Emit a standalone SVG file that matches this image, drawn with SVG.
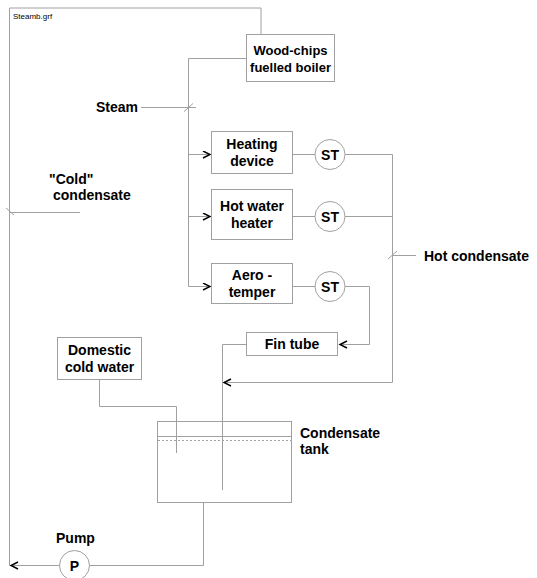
<svg xmlns="http://www.w3.org/2000/svg" width="537" height="578" viewBox="0 0 537 578">
<style>
.ln{fill:none;stroke:#a0a0a0;stroke-width:1}
.bx{fill:#fff;stroke:#a0a0a0;stroke-width:1}
.t{font-family:"Liberation Sans",Arial,sans-serif;font-weight:bold;font-size:14px;fill:#000}
.tc{text-anchor:middle}
.s{font-family:"Liberation Sans",Arial,sans-serif;font-size:8px;fill:#000}
</style>
<defs>
<marker id="ah" markerWidth="10" markerHeight="10" refX="8" refY="4" orient="auto" markerUnits="userSpaceOnUse">
<path d="M1,0.5 L8,4 L1,7.5" fill="none" stroke="#000" stroke-width="1.4"/>
</marker>
</defs>
<rect x="0" y="0" width="537" height="578" fill="#fff"/>
<g id="connectors">
<polyline class="ln" points="261,34 261,8 9.5,8 9.5,565.5"/>
<polyline class="ln" points="246,58.5 188.5,58.5 188.5,286.5 210,286.5" marker-end="url(#ah)"/>
<line class="ln" x1="188.5" y1="154.5" x2="210" y2="154.5" marker-end="url(#ah)"/>
<line class="ln" x1="188.5" y1="216.5" x2="210" y2="216.5" marker-end="url(#ah)"/>
<line class="ln" x1="141" y1="107.5" x2="196" y2="107.5"/>
<line class="ln" x1="184" y1="111.5" x2="193" y2="103.5"/>
<line class="ln" x1="9.5" y1="212.5" x2="80" y2="212.5"/>
<line class="ln" x1="6" y1="208" x2="14" y2="215"/>
<line class="ln" x1="292" y1="154.5" x2="315" y2="154.5"/>
<line class="ln" x1="292" y1="216.5" x2="315" y2="216.5"/>
<line class="ln" x1="292" y1="286.5" x2="315" y2="286.5"/>
<polyline class="ln" points="345,154.5 392.5,154.5 392.5,382.5 224,382.5" marker-end="url(#ah)"/>
<line class="ln" x1="345" y1="216.5" x2="392.5" y2="216.5"/>
<line class="ln" x1="392.5" y1="255.5" x2="416" y2="255.5"/>
<line class="ln" x1="388" y1="259" x2="397" y2="251"/>
<polyline class="ln" points="345,286.5 369.5,286.5 369.5,344.5 340,344.5" marker-end="url(#ah)"/>
<polyline class="ln" points="246,344.5 222.5,344.5 222.5,490"/>
<polyline class="ln" points="99.5,379 99.5,406.5 176.5,406.5 176.5,453"/>
<polyline class="ln" points="203.5,502 203.5,565.5 89,565.5"/>
<line class="ln" x1="60" y1="565.5" x2="11" y2="565.5" marker-end="url(#ah)"/>
</g>
<text class="s" x="13" y="19">Steamb.grf</text>
<g id="boiler">
<rect class="bx" x="246.5" y="34.5" width="88" height="47"/>
<text class="t tc" x="290.5" y="55" style="font-size:13px">Wood-chips</text>
<text class="t tc" x="290.5" y="72" style="font-size:13px">fuelled boiler</text>
</g>
<g id="steam-label"><text class="t" x="96" y="112">Steam</text></g>
<g id="cold-label">
<text class="t" x="49" y="184">"Cold"</text>
<text class="t" x="53" y="200">condensate</text>
</g>
<g id="heating">
<rect class="bx" x="211.5" y="131.5" width="81" height="42"/>
<text class="t tc" x="252" y="149">Heating</text>
<text class="t tc" x="252" y="166">device</text>
</g>
<g id="hotwater">
<rect class="bx" x="211.5" y="189.5" width="81" height="50"/>
<text class="t tc" x="252" y="211">Hot water</text>
<text class="t tc" x="252" y="228">heater</text>
</g>
<g id="aero">
<rect class="bx" x="211.5" y="263.5" width="81" height="40"/>
<text class="t tc" x="252" y="280">Aero -</text>
<text class="t tc" x="252" y="297">temper</text>
</g>
<g id="st1"><circle class="bx" cx="330" cy="154.5" r="15"/><text class="t tc" x="330" y="160">ST</text></g>
<g id="st2"><circle class="bx" cx="330" cy="216.5" r="15"/><text class="t tc" x="330" y="222">ST</text></g>
<g id="st3"><circle class="bx" cx="330" cy="286.5" r="15"/><text class="t tc" x="330" y="292">ST</text></g>
<g id="hot-label"><text class="t" x="424" y="261">Hot condensate</text></g>
<g id="fintube">
<rect class="bx" x="246.5" y="332.5" width="91" height="23"/>
<text class="t tc" x="292" y="349">Fin tube</text>
</g>
<g id="domestic">
<rect class="bx" x="57.5" y="337.5" width="84" height="42"/>
<text class="t tc" x="99.5" y="355">Domestic</text>
<text class="t tc" x="99.5" y="372">cold water</text>
</g>
<g id="tank">
<rect class="ln" x="157.5" y="421.5" width="134" height="81"/>
<line class="ln" x1="157.5" y1="436.5" x2="291.5" y2="436.5"/>
<line x1="158" y1="440.5" x2="291" y2="440.5" stroke="#a0a0a0" stroke-width="1" stroke-dasharray="2,2"/>
<line class="ln" x1="176.5" y1="421.5" x2="176.5" y2="453"/>
<line class="ln" x1="222.5" y1="421.5" x2="222.5" y2="490"/>
<text class="t" x="300" y="438">Condensate</text>
<text class="t" x="300" y="454">tank</text>
</g>
<g id="pump">
<circle class="bx" cx="74.5" cy="565.5" r="15"/>
<text class="t tc" x="74.5" y="571">P</text>
<text class="t" x="56" y="543">Pump</text>
</g>
</svg>
